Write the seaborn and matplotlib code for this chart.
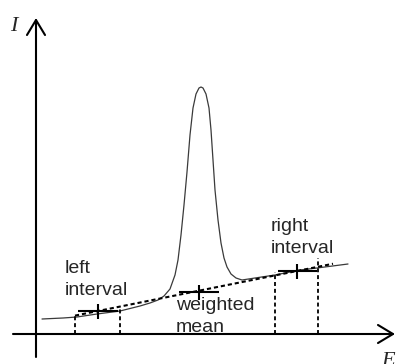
import matplotlib
matplotlib.use("Agg")
import matplotlib.pyplot as plt
import seaborn as sns
import pandas as pd

# ---- data (E, I) ----
curve_E = [6, 27, 41, 61, 84, 104, 114, 122, 128, 134, 139, 142, 145, 148, 151,
           154, 157, 160, 163, 165, 167, 170, 173, 175, 177, 179, 182, 185, 188,
           191, 195, 200, 206, 219, 239, 264, 281, 312]
curve_I = [15, 16, 17, 20, 23, 28, 31, 34, 38, 45, 59, 74, 99, 129, 162,
           199, 226, 240, 246, 247, 246, 240, 226, 204, 174, 144, 114, 91, 76,
           67, 60, 56, 54, 56, 59, 64, 66, 70]

labels = ["left\ninterval", "weighted\nmean", "right\ninterval"]
mean_E = [62, 163, 261]          # centres of the crosses
mean_I = [23, 42, 63]
mean_halfwidth = [20, 20, 19.5]
mean_halfheight = [7.5, 7.5, 7.5]

interval_bounds = [39, 84, 239, 282]   # dashed verticals
interval_tops = [18, 25, 62, 76]

fit_range = [39, 297]                  # extent of the dashed background line

label_E = [29, 140, 235]
label_I = [39, 2, 81]

sns.set_style("white")
plt.rcParams['font.family'] = ['Liberation Sans', 'DejaVu Sans']

fig = plt.figure(figsize=(3.96, 3.64), dpi=100)
ax = fig.add_axes([0, 0, 1, 1])
ax.set_xlim(-36, 360)
ax.set_ylim(-30, 334)
ax.axis('off')

# spectrum curve
df = pd.DataFrame({"E": curve_E, "I": curve_I})
sns.lineplot(data=df, x="E", y="I", ax=ax, color="#3a3a3a", lw=0.9,
             estimator=None, sort=False)

# dashed background line through left and right interval means
slope = (mean_I[2] - mean_I[0]) / (mean_E[2] - mean_E[0])
fit_df = pd.DataFrame({"E": fit_range,
                       "I": [mean_I[0] + slope * (e - mean_E[0]) for e in fit_range]})
sns.lineplot(data=fit_df, x="E", y="I", ax=ax, color="black", lw=1.5,
             linestyle=(0, (2, 1.4)), estimator=None)

# interval bounds
ax.vlines(interval_bounds, 0, interval_tops, colors="black", lw=1.3,
          linestyles=[(0, (2.2, 1.6))])

# crosses
ax.errorbar(mean_E, mean_I, xerr=mean_halfwidth, yerr=mean_halfheight,
            fmt="none", ecolor="black", elinewidth=1.5, capsize=0)

# labels
for t, e, i in zip(labels, label_E, label_I):
    ax.text(e, i, t, fontsize=14, ha="left", va="baseline", linespacing=1.35,
            family=["Liberation Sans", "DejaVu Sans"])

# axes with open arrowheads
arrow = dict(arrowstyle="->,head_length=1.08,head_width=0.65", lw=1.5,
             color="black", shrinkA=0, shrinkB=0, mutation_scale=10)
ax.annotate("", xy=(359, 0), xytext=(-23, 0), arrowprops=arrow)
ax.annotate("", xy=(0, 316), xytext=(0, -23), arrowprops=arrow)

ax.text(-26, 303, "I", fontsize=16, style="italic", ha="left", va="baseline",
        family=["Liberation Serif", "DejaVu Serif"])
ax.text(345, -32, "E", fontsize=16, style="italic", ha="left", va="baseline",
        family=["Liberation Serif", "DejaVu Serif"])

fig.savefig("out.png", dpi=100)
